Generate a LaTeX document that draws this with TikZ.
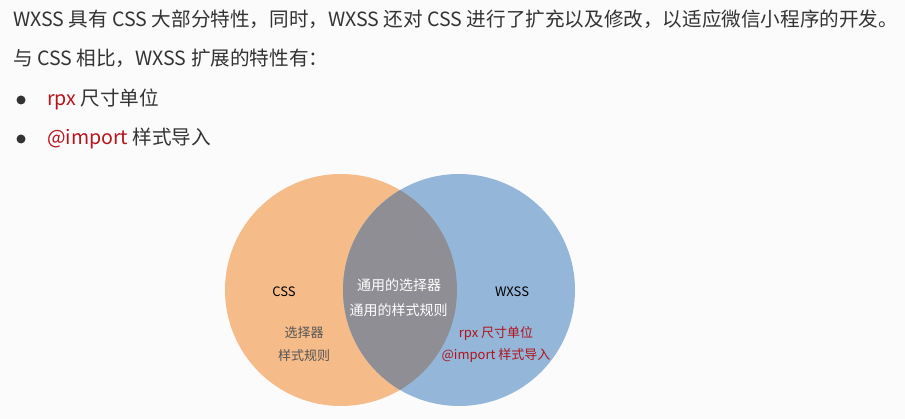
\documentclass[tikz,border=0pt]{standalone}
\usepackage{fontspec}
\setmainfont{Noto Sans CJK SC}
\begin{document}
\begin{tikzpicture}[x=1pt,y=-1pt,
  bodytext/.style={anchor=base west,inner sep=0pt,text=txtgray,font=\fontsize{19.6}{22}\selectfont},
  venntext/.style={inner sep=0pt,font=\fontsize{13}{15}\selectfont},
  commontext/.style={inner sep=0pt,text=white,font=\fontsize{14}{16}\selectfont},
  bulletdot/.style={circle,fill=txtgray,inner sep=0pt,minimum size=9pt}]
\definecolor{txtgray}{HTML}{333333}
\definecolor{keyred}{HTML}{B8141C}
\definecolor{bgpaper}{HTML}{FBFBFB}
\definecolor{cssorange}{HTML}{F5BB89}
\definecolor{wxssblue}{HTML}{94B6D8}
\definecolor{overlapgray}{HTML}{8F8E94}
\definecolor{labelgray}{HTML}{555555}
\definecolor{wxssred}{HTML}{B0141C}

% page
\fill[bgpaper] (0,0) rectangle (905,419);
\useasboundingbox (0,0) rectangle (905,419);

% introduction text
\node[bodytext] (intro) at (13,27) {WXSS 具有 CSS 大部分特性，同时，WXSS 还对 CSS 进行了扩充以及修改，以适应微信小程序的开发。};
\node[bodytext] (compare) at (13,66) {与 CSS 相比，WXSS 扩展的特性有：};
\node[bulletdot] (dot1) at (21,100) {};
\node[bodytext] (feat1) at (47,106) {\textcolor{keyred}{rpx} 尺寸单位};
\node[bulletdot] (dot2) at (21,139) {};
\node[bodytext] (feat2) at (47,145) {\textcolor{keyred}{@import} 样式导入};

% Venn diagram
\fill[cssorange] (341,290) circle (116);
\fill[wxssblue] (459,290) circle (116);
\begin{scope}
  \clip (341,290) circle (116);
  \fill[overlapgray] (459,290) circle (116);
\end{scope}

\node[venntext,text=black] (css) at (284,292) {CSS};
\node[venntext,text=labelgray] (sel) at (304,333) {选择器};
\node[venntext,text=labelgray] (rule) at (304,356) {样式规则};
\node[commontext] (csel) at (399,285) {通用的选择器};
\node[commontext] (crule) at (398.5,310) {通用的样式规则};
\node[venntext,text=black] (wxss) at (512,292) {WXSS};
\node[venntext,text=wxssred] (rpx) at (496,333) {rpx 尺寸单位};
\node[venntext,text=wxssred] (imp) at (496,356) {@import 样式导入};
\end{tikzpicture}
\end{document}
